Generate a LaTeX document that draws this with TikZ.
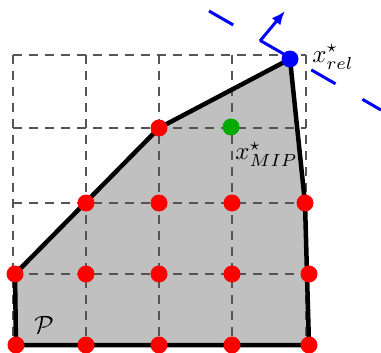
\documentclass[tikz,border=0pt]{standalone}
\usepackage{amssymb}
\usepackage{xcolor}
\usetikzlibrary{arrows.meta}

\begin{document}
\begin{tikzpicture}[x=0.4pt,y=0.4pt,yscale=-1,xscale=1,
  gridline/.style={color={rgb, 255:red, 85; green, 85; blue, 85 },line width=0.6pt,dash pattern={on 3.6pt off 2.8pt}},
  hullline/.style={line width=1.8pt,line join=round},
  ptdot/.style={fill={rgb, 255:red, 255; green, 0; blue, 0 }},
  objline/.style={color={rgb, 255:red, 0; green, 0; blue, 255 },line width=1.2pt}]
\useasboundingbox (0,0) rectangle (381,353);

% polytope corners
\coordinate (bl) at (16,345);
\coordinate (lm) at (15,274);
\coordinate (tm) at (159,128);
\coordinate (rel) at (290,59);
\coordinate (rm) at (305,203);
\coordinate (br) at (309,345);

%Shape: Polygon
\fill [color={rgb, 255:red, 192; green, 192; blue, 192 }] (bl) -- (lm) -- (tm) -- (rel) -- (rm) -- (br) -- cycle;

%Straight Lines (grid)
\foreach \gx in {13,86,159,232,306} {
  \draw [gridline] (\gx,55) -- (\gx,345);
}
\foreach \gy in {55,128,203,274} {
  \draw [gridline] (13,\gy) -- (306,\gy);
}

%Shape: Polygon border
\draw [hullline] (bl) -- (lm) -- (tm) -- (rel) -- (rm) -- (br) -- cycle;

%Straight Lines (objective)
\draw [objline,dash pattern={on 11.2pt off 12.4pt}] (209,11) -- (381,110);
\coordinate (cbase) at (260,41);
\coordinate (ctip) at (285,11);
\draw [objline,-{Latex[length=5.5pt,width=4.5pt]}] (cbase) -- (ctip);

%Shape: Circles (integer points)
\foreach \px/\py in {16/345,86/345,159/345,232/345,309/345,
                     15/274,86/274,159/274,232/274,309/274,
                     86/203,159/203,232/203,305/203,
                     159/128} {
  \fill [ptdot] (\px,\py) circle [radius=8.5];
}
\fill [color={rgb, 255:red, 0; green, 170; blue, 0 }] (231,127) circle [radius=8.5];
\fill [color={rgb, 255:red, 0; green, 0; blue, 255 }] (rel) circle [radius=8.5];

% Text Node
\node [anchor=west,inner sep=0.75pt] (lrel) at (310,57) {$x^{\star}_{rel}$};
% Text Node
\node [anchor=north west,inner sep=0.75pt] (lmip) at (233,140) {$x^{\star}_{MIP}$};
% Text Node
\node [inner sep=0.75pt] (lP) at (44,325) {$\mathcal{P}$};

\end{tikzpicture}
\end{document}
